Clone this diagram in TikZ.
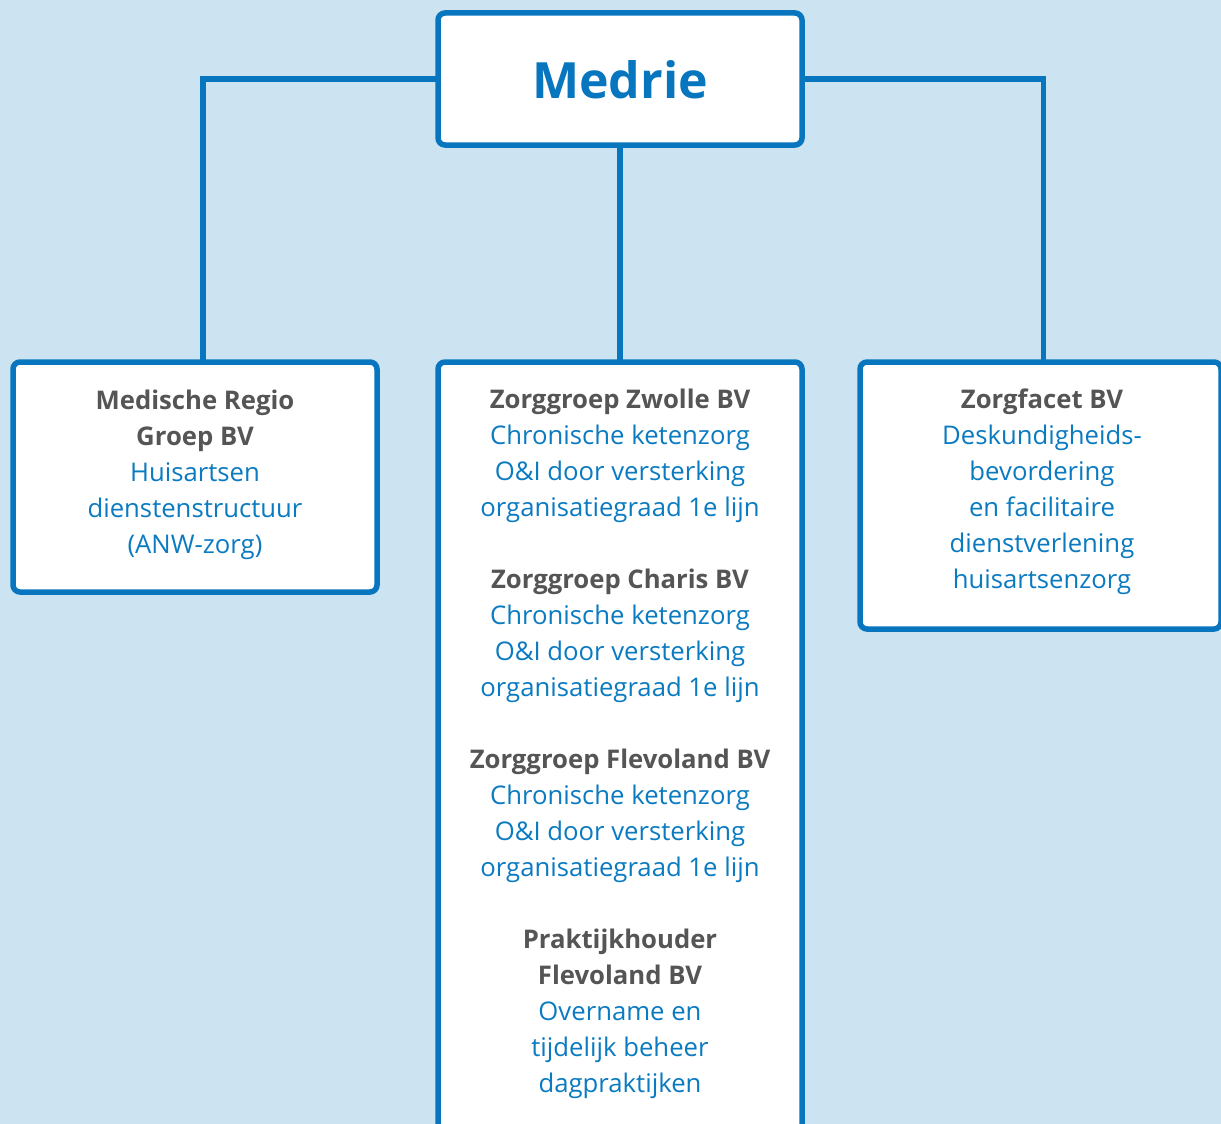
\documentclass[tikz,border=0pt]{standalone}
\usepackage{fontspec}
\setmainfont{Open Sans}
\definecolor{bg}{HTML}{CCE3F1}
\definecolor{frame}{HTML}{0776BE}
\definecolor{bluetxt}{HTML}{0B7BC1}
\definecolor{graytxt}{HTML}{555555}
\newcommand{\hd}[1]{{\bfseries\color{graytxt}#1}}
\begin{document}
\begin{tikzpicture}[x=1pt,y=-1pt,
  boxs/.style={draw=frame, line width=5.5pt, fill=white, rounded corners=7pt, inner sep=0pt, outer sep=0pt},
  conn/.style={draw=frame, line width=5.5pt},
  txt/.style={anchor=north, inner sep=0pt, align=center, text=bluetxt,
    font=\fontsize{25.7}{36}\selectfont}]
\useasboundingbox (0,0) rectangle (1221,1124);
\fill[bg] (0,0) rectangle (1221,1124);
\begin{scope}
\clip (0,0) rectangle (1221,1124);
\node[boxs, minimum width=364pt, minimum height=132pt] (medrie) at (620,79) {};
\node[boxs, minimum width=364pt, minimum height=230pt, anchor=north west] (left) at (13,362) {};
\node[boxs, minimum width=364pt, minimum height=790pt, anchor=north west] (mid) at (438,362) {};
\node[boxs, minimum width=361pt, minimum height=267pt, anchor=north west] (right) at (860,362) {};
\draw[conn] (medrie.west) -| ([xshift=8pt]left.north);
\draw[conn] (medrie.east) -| ([xshift=3pt]right.north);
\draw[conn] (medrie.south) -- (mid.north);
\end{scope}
\node[inner sep=0pt, font=\fontsize{50}{60}\selectfont\bfseries, text=frame] (mtitle) at (620,80) {Medrie};
\node[txt] (ltxt) at (195,390) {\hd{Medische Regio}\\ \hd{Groep BV}\\ Huisartsen\\ dienstenstructuur\\ (ANW-zorg)};
\node[txt] (mtxt) at (620,389) {\hd{Zorggroep Zwolle BV}\\ Chronische ketenzorg\\ O\&I door versterking\\ organisatiegraad 1e lijn\\[36pt]
\hd{Zorggroep Charis BV}\\ Chronische ketenzorg\\ O\&I door versterking\\ organisatiegraad 1e lijn\\[36pt]
\hd{Zorggroep Flevoland BV}\\ Chronische ketenzorg\\ O\&I door versterking\\ organisatiegraad 1e lijn\\[36pt]
\hd{Praktijkhouder}\\ \hd{Flevoland BV}\\ Overname en\\ tijdelijk beheer\\ dagpraktijken};
\node[txt] (rtxt) at (1042,389) {\hd{Zorgfacet BV}\\ Deskundigheids-\\ bevordering\\ en facilitaire\\ dienstverlening\\ huisartsenzorg};
\end{tikzpicture}
\end{document}
